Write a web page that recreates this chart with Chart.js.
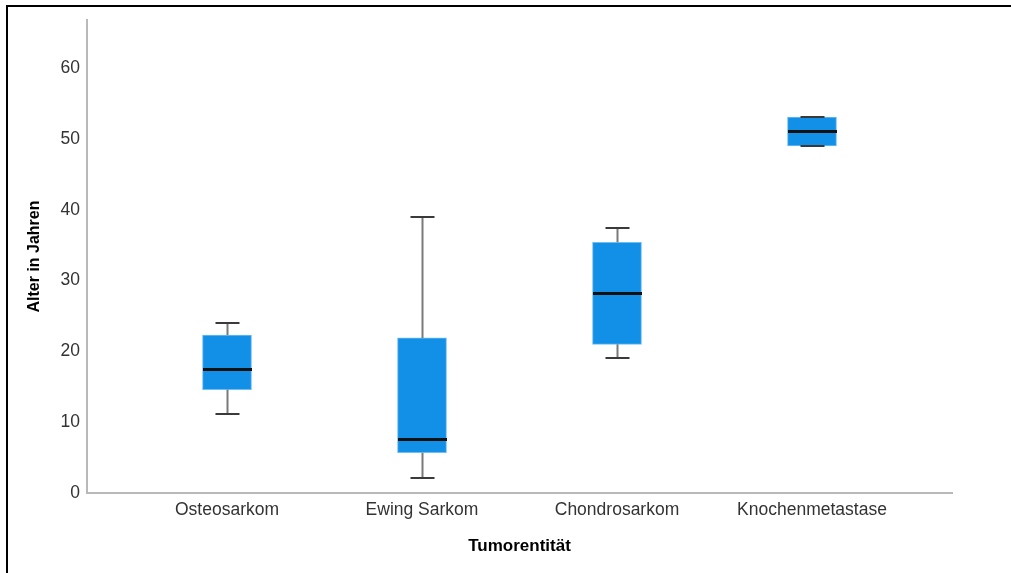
<!DOCTYPE html>
<html>
<head>
<meta charset="utf-8">
<script src="https://cdn.jsdelivr.net/npm/chart.js@4"></script>
<style>
  html, body { margin: 0; padding: 0; background: #fff; overflow: hidden; }
  #wrap { position: absolute; left: 0; top: 0; width: 1011px; height: 573px; }
  #frame { position: absolute; left: 6px; top: 5px; width: 1100px; height: 700px;
           border-top: 2px solid #000; border-left: 2px solid #000; pointer-events: none; }
</style>
</head>
<body>
<div id="wrap"><canvas id="myChart" width="1011" height="573"></canvas></div>
<div id="frame"></div>
<script>
  // Boxplot values (Alter in Jahren)
  const categories = ['Osteosarkom', 'Ewing Sarkom', 'Chondrosarkom', 'Knochenmetastase'];
  const whiskerLow  = [11.2, 2.1, 19.1, 49.0];
  const q1          = [14.6, 5.7, 21.0, 49.0];
  const median      = [17.5, 7.6, 28.2, 51.1];
  const q3          = [22.3, 21.9, 35.4, 53.1];
  const whiskerHigh = [24.0, 39.0, 37.4, 53.1];
  const yTicks = [0, 10, 20, 30, 40, 50, 60];

  const boxes = categories.map(function(c, i) {
    return { x: i, y: [q1[i], q3[i]] };
  });

  // whiskers + median lines, drawn with the chart's scales
  const boxplotLines = {
    id: 'boxplotLines',
    afterDatasetsDraw: function(chart) {
      const ctx = chart.ctx;
      const xs = chart.scales.x, ys = chart.scales.y;
      const boxW = 49, capW = 24;
      ctx.save();
      categories.forEach(function(c, i) {
        const cx = Math.round(xs.getPixelForValue(i)) + 0.5;
        // vertical whiskers
        ctx.strokeStyle = '#7a7a7a';
        ctx.lineWidth = 2;
        ctx.beginPath();
        ctx.moveTo(cx, ys.getPixelForValue(q3[i]));
        ctx.lineTo(cx, ys.getPixelForValue(whiskerHigh[i]));
        ctx.moveTo(cx, ys.getPixelForValue(q1[i]));
        ctx.lineTo(cx, ys.getPixelForValue(whiskerLow[i]));
        ctx.stroke();
        // caps
        ctx.strokeStyle = '#3a3a3a';
        ctx.lineWidth = 2;
        ctx.beginPath();
        let yh = Math.round(ys.getPixelForValue(whiskerHigh[i]));
        let yl = Math.round(ys.getPixelForValue(whiskerLow[i]));
        ctx.moveTo(cx - capW / 2, yh); ctx.lineTo(cx + capW / 2, yh);
        ctx.moveTo(cx - capW / 2, yl); ctx.lineTo(cx + capW / 2, yl);
        ctx.stroke();
        // median
        ctx.strokeStyle = '#111';
        ctx.lineWidth = 3;
        const ym = Math.round(ys.getPixelForValue(median[i])) + 0.5;
        ctx.beginPath();
        ctx.moveTo(cx - boxW / 2, ym); ctx.lineTo(cx + boxW / 2, ym);
        ctx.stroke();
      });
      ctx.restore();
    }
  };

  const config = {
    type: 'bar',
    data: {
      datasets: [{
        label: 'Alter in Jahren',
        data: boxes,
        backgroundColor: '#128fe6',
        borderColor: '#6fbef2',
        borderWidth: 1,
        borderSkipped: false,
        barThickness: 49
      }]
    },
    options: {
      responsive: false,
      animation: false,
      layout: { padding: { left: 0, top: 20, right: 59, bottom: 0 } },
      plugins: { legend: { display: false }, tooltip: { enabled: false } },
      scales: {
        x: {
          type: 'linear',
          offset: false,
          min: -0.718,
          max: 3.718,
          afterBuildTicks: function(scale) {
            scale.ticks = categories.map(function(c, i) { return { value: i }; });
          },
          afterFit: function(scale) { scale.height = 80; },
          grid: { display: false, drawTicks: false, offset: false },
          border: { display: true, color: '#b9b9b9', width: 2 },
          ticks: {
            padding: 7,
            color: '#333',
            font: { family: 'Liberation Sans, Arial, sans-serif', size: 17.5 },
            callback: function(v) { return categories[v]; }
          },
          title: {
            display: true,
            text: 'Tumorentität',
            color: '#000',
            font: { family: 'Liberation Sans, Arial, sans-serif', size: 17, weight: 'bold' },
            padding: { top: 0, bottom: 16 }
          }
        },
        y: {
          min: 0,
          max: 66.8,
          afterBuildTicks: function(scale) {
            scale.ticks = yTicks.map(function(v) { return { value: v }; });
          },
          afterFit: function(scale) { scale.width = 87; },
          grid: { display: false, drawTicks: false },
          border: { display: true, color: '#b9b9b9', width: 2 },
          ticks: {
            padding: 7,
            color: '#333',
            font: { family: 'Liberation Sans, Arial, sans-serif', size: 17.5 }
          },
          title: {
            display: true,
            text: 'Alter in Jahren',
            color: '#000',
            font: { family: 'Liberation Sans, Arial, sans-serif', size: 16, weight: 'bold' },
            padding: { top: 25, bottom: 0 }
          }
        }
      }
    },
    plugins: [boxplotLines]
  };

  const myChart = new Chart(document.getElementById('myChart'), config);
</script>
</body>
</html>
